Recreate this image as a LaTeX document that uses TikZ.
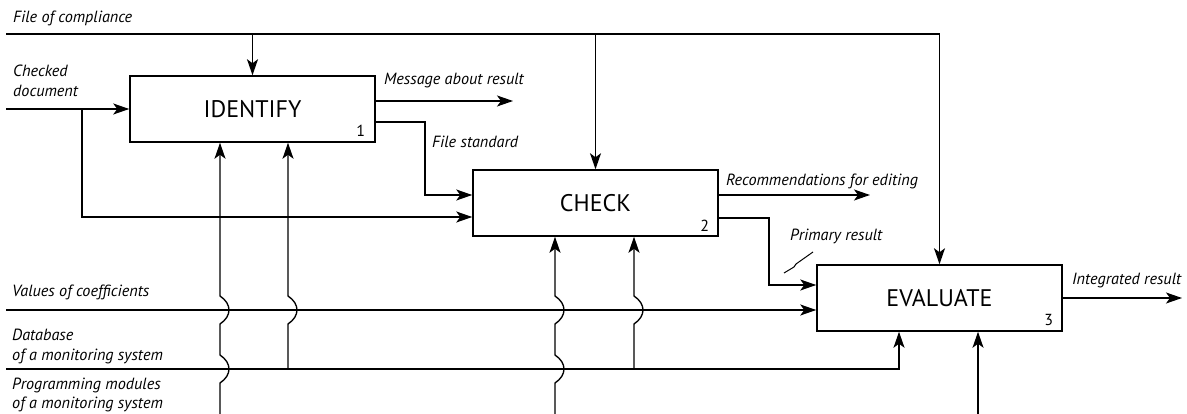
\documentclass[tikz,border=0pt]{standalone}
\usepackage{fontspec}
\setmainfont{PT Sans}
\usetikzlibrary{arrows.meta,calc}
\newcommand\hopv[2]{-- (#1,#2+14) .. controls (#1+12,#2+6) and (#1+12,#2-6) .. (#1,#2-14)}
\begin{document}
\begin{tikzpicture}[x=1pt,y=-1pt,
  box/.style={draw,line width=1.5pt,minimum width=245pt,minimum height=66pt,inner sep=0pt,font=\fontsize{24}{27}\selectfont},
  arr/.style={line width=1.35pt,-{Stealth[length=16pt,width=11pt,inset=4pt]}},
  lbl/.style={anchor=base west,inner sep=0pt,align=left,font=\itshape\fontsize{16.2}{20}\selectfont},
  num/.style={anchor=base,inner sep=0pt,font=\fontsize{16}{18}\selectfont}]
\useasboundingbox (0,0) rectangle (1187,414);

% boxes
\node[box] (ident) at (252.5,109) {IDENTIFY};
\node[box] (check) at (595.5,203) {CHECK};
\node[box] (eval)  at (939.5,298) {EVALUATE};
\node[num] (n1) at ($(ident.south east)+(-15,-6)$) {1};
\node[num] (n2) at ($(check.south east)+(-14,-5)$) {2};
\node[num] (n3) at ($(eval.south east)+(-14,-6)$) {3};

% free ends
\coordinate (fc) at (6,34);
\coordinate (cd) at (6,109);
\coordinate (cdb) at (82,109);
\coordinate (mr) at (513,101);
\coordinate (fs) at (425,122);
\coordinate (re) at (870,195);
\coordinate (pr) at (769,218);
\coordinate (ir) at (1182,298);
\coordinate (vc) at (6,310);
\coordinate (db) at (6,369);
\coordinate (dbe) at (899,369);
\coordinate (db1) at (288,369);
\coordinate (db2) at (634,369);
\coordinate (pm1) at (220,416);
\coordinate (pm2) at (555,416);
\coordinate (pm3) at (978,416);

% labels (base = baseline of the last line)
\node[lbl] (lfc) at (13,23) {File of compliance};
\node[lbl] (lcd) at (13,97) {Checked\\document};
\node[lbl] (lmr) at (384,85) {Message about result};
\node[lbl] (lfs) at (432,148) {File standard};
\node[lbl] (lre) at (726,186) {Recommendations for editing};
\node[lbl] (lpr) at (790,241) {Primary result};
\node[lbl] (lir) at (1072,285) {Integrated result};
\node[lbl] (lvc) at (12,297) {Values of coefficients};
\node[lbl] (ldb) at (12,360) {Database\\of a monitoring system};
\node[lbl,font=\itshape\fontsize{16.2}{19}\selectfont] (lpm) at (12,408.5) {Programming modules\\of a monitoring system};

% controls from top
\draw[arr] (fc) -| (eval.north);
\draw[arr] (fc -| ident.north) -- (ident.north);
\draw[arr] (fc -| check.north) -- (check.north);

% inputs / outputs
\draw[arr] (cd) -- (ident.west);
\draw[arr] (cdb) |- ($(check.west)+(0,14)$);
\draw[arr] ($(ident.east)+(0,-8)$) -- (mr);
\draw[arr] ($(ident.east)+(0,13)$) -| (fs) |- ($(check.west)+(0,-8)$);
\draw[arr] ($(check.east)+(0,-8)$) -- (re);
\draw[arr] ($(check.east)+(0,15)$) -| (pr) |- ($(eval.west)+(0,-13)$);
\draw[arr] (eval.east) -- (ir);
\draw[arr] (vc) -- (vc -| eval.west);
\draw[arr] (db) -- (dbe) -- (dbe |- eval.south);

% squiggle
\draw[line width=1pt] (813,252) -- (796,264) -- (794,267) -- (784,273);

% mechanisms from below
\draw[arr] (pm1) \hopv{220}{369} \hopv{220}{310} -- (pm1 |- ident.south);
\draw[arr] (db1) \hopv{288}{310} -- (db1 |- ident.south);
\draw[arr] (pm2) \hopv{555}{369} \hopv{555}{310} -- (pm2 |- check.south);
\draw[arr] (db2) \hopv{634}{310} -- (db2 |- check.south);
\draw[arr] (pm3) -- (pm3 |- eval.south);
\end{tikzpicture}
\end{document}
